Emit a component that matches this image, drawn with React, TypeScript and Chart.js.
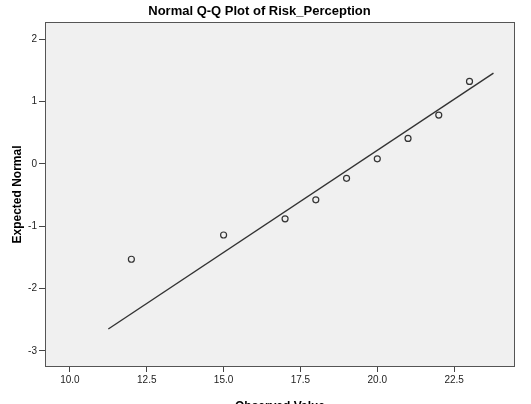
import React, { useEffect, useRef } from "react";
import { Chart, registerables } from "chart.js";

Chart.register(...registerables);

const observedValues = [12, 15, 17, 18, 19, 20, 21, 22, 23];
const expectedNormal = [-1.53, -1.14, -0.88, -0.575, -0.23, 0.083, 0.41, 0.785, 1.326];
const lineX = [11.25, 23.78];
const lineY = [-2.65, 1.46];
const xTicks = [10.0, 12.5, 15.0, 17.5, 20.0, 22.5];
const yTicks = [-3, -2, -1, 0, 1, 2];

const FONT = "Arial, 'Liberation Sans', Helvetica, sans-serif";

const framePlugin = {
  id: "frame",
  beforeDatasetsDraw(chart: any) {
    const { ctx, chartArea } = chart;
    const { left, top, right, bottom } = chartArea;
    ctx.save();
    ctx.fillStyle = "#f0f0f0";
    ctx.fillRect(left, top, right - left, bottom - top);
    ctx.restore();
  },
  afterDatasetsDraw(chart: any) {
    const { ctx, chartArea } = chart;
    const { left, top, right, bottom } = chartArea;
    ctx.save();
    ctx.strokeStyle = "#555555";
    ctx.lineWidth = 1;
    ctx.strokeRect(Math.round(left) + 0.5, Math.round(top) + 0.5, Math.round(right - left) - 1, Math.round(bottom - top) - 1);
    ctx.restore();
  },
};

export default function App() {
  const ref = useRef<HTMLCanvasElement | null>(null);

  useEffect(() => {
    if (!ref.current) return;
    const chart = new Chart(ref.current, {
      type: "scatter",
      data: {
        datasets: [
          {
            type: "line",
            data: lineX.map((x, i) => ({ x, y: lineY[i] })),
            borderColor: "#333333",
            borderWidth: 1.4,
            pointRadius: 0,
            fill: false,
          } as any,
          {
            type: "scatter",
            data: observedValues.map((x, i) => ({ x, y: expectedNormal[i] })),
            pointStyle: "circle",
            pointRadius: 3,
            pointBorderWidth: 1.2,
            borderColor: "#333333",
            backgroundColor: "rgba(0,0,0,0)",
          } as any,
        ],
      },
      options: {
        responsive: false,
        animation: false,
        layout: { padding: { left: 4, right: 16, top: 0, bottom: 0 } },
        plugins: {
          legend: { display: false },
          tooltip: { enabled: false },
          title: {
            display: true,
            text: "Normal Q-Q Plot of Risk_Perception",
            color: "#000000",
            font: { family: FONT, size: 13, weight: "bold" },
            padding: { top: 3.2, bottom: 3.2 },
          },
        },
        scales: {
          x: {
            type: "linear",
            min: 9.19,
            max: 24.48,
            afterFit: (s: any) => {
              s.height = 37;
            },
            afterBuildTicks: (s: any) => {
              s.ticks = xTicks.map((v) => ({ value: v }));
            },
            grid: {
              display: true,
              drawOnChartArea: false,
              drawTicks: true,
              tickLength: 5,
              color: "#444444",
            },
            border: { display: false },
            ticks: {
              color: "#222222",
              font: { family: FONT, size: 10 },
              padding: 2,
              maxRotation: 0,
              callback: (v: any) => Number(v).toFixed(1),
            },
            title: {
              display: true,
              text: "Observed Value",
              color: "#000000",
              font: { family: FONT, size: 12, weight: "bold" },
              padding: { top: 0, bottom: -10 },
            },
          },
          y: {
            type: "linear",
            min: -3.26,
            max: 2.28,
            afterFit: (s: any) => {
              s.width = 41;
            },
            afterBuildTicks: (s: any) => {
              s.ticks = yTicks.map((v) => ({ value: v }));
            },
            grid: {
              display: true,
              drawOnChartArea: false,
              drawTicks: true,
              tickLength: 6,
              color: "#444444",
            },
            border: { display: false },
            ticks: {
              color: "#222222",
              font: { family: FONT, size: 10 },
              padding: 2,
              callback: (v: any) => String(v),
            },
            title: {
              display: true,
              text: "Expected Normal",
              color: "#000000",
              font: { family: FONT, size: 12, weight: "bold" },
              padding: { top: 6.5, bottom: 0 },
            },
          },
        },
      },
      plugins: [framePlugin],
    });
    return () => chart.destroy();
  }, []);

  return (
    <div style={{ position: "absolute", left: 0, top: 0, width: 531, height: 404, background: "#ffffff" }}>
      <canvas ref={ref} width={531} height={404} style={{ display: "block" }} />
    </div>
  );
}
